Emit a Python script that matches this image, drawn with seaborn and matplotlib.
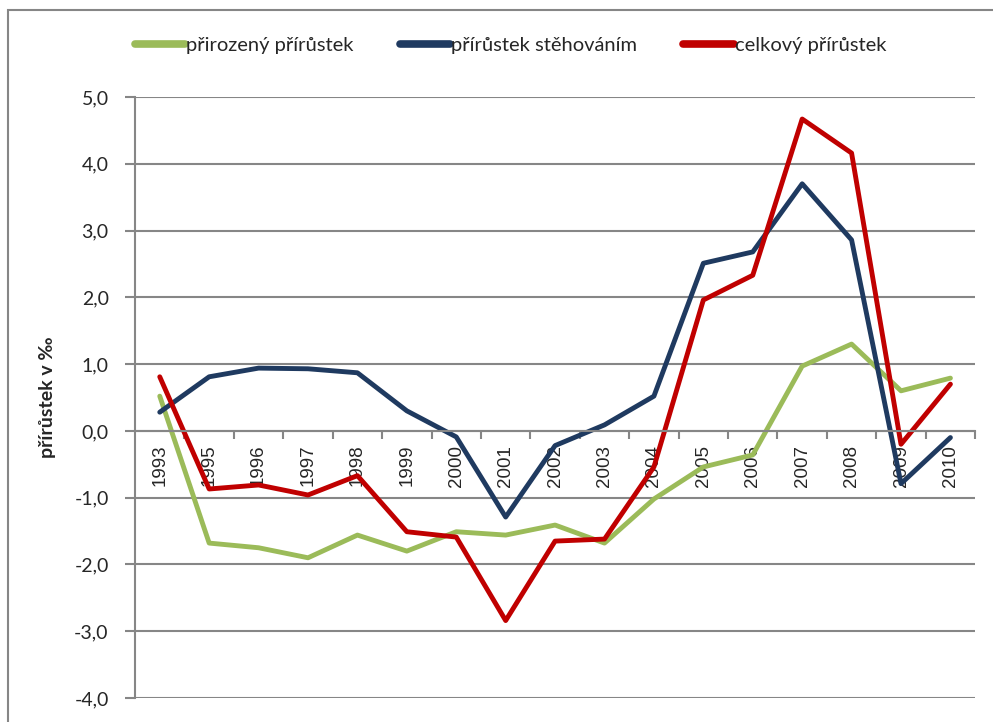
import pandas as pd
import matplotlib
matplotlib.use("Agg")
import matplotlib.pyplot as plt
import seaborn as sns
from matplotlib.patches import Rectangle
from matplotlib.ticker import FixedLocator, FuncFormatter

years = ["1993", "1995", "1996", "1997", "1998", "1999", "2000", "2001", "2002",
         "2003", "2004", "2005", "2006", "2007", "2008", "2009", "2010"]
prirozeny = [0.52, -1.68, -1.75, -1.90, -1.56, -1.80, -1.51, -1.56, -1.41,
             -1.68, -1.02, -0.54, -0.36, 0.97, 1.30, 0.60, 0.79]
stehovanim = [0.28, 0.81, 0.94, 0.93, 0.87, 0.30, -0.09, -1.29, -0.22,
              0.09, 0.52, 2.51, 2.68, 3.70, 2.86, -0.79, -0.10]
celkovy = [0.81, -0.87, -0.81, -0.96, -0.67, -1.51, -1.59, -2.84, -1.65,
           -1.62, -0.54, 1.96, 2.33, 4.67, 4.16, -0.20, 0.70]
series_names = ["přirozený přírůstek", "přírůstek stěhováním", "celkový přírůstek"]
colors = ["#9BBB59", "#1F3A60", "#C00000"]

rows = []
for name, vals in zip(series_names, [prirozeny, stehovanim, celkovy]):
    for i, v in enumerate(vals):
        rows.append({"pos": i, "rok": years[i], "hodnota": v, "serie": name})
df = pd.DataFrame(rows)

sns.set_style("white")
plt.rcParams["font.family"] = ["Lato", "DejaVu Sans"]

fig = plt.figure(figsize=(9.93, 7.22), dpi=100)
ax = fig.add_axes([0.136, 0.0332, 0.846, 0.8325])

sns.lineplot(data=df, x="pos", y="hodnota", hue="serie", hue_order=series_names,
             palette=colors, linewidth=3.5, sort=False, ax=ax, legend=False)

ax.set_xlim(-0.5, len(years) - 0.5)
ax.set_ylim(-4, 5)
ax.set_yticks(range(-4, 6))
ax.yaxis.set_major_formatter(FuncFormatter(lambda v, p: f"{v:.1f}".replace(".", ",")))
ax.grid(axis="y", color="#868686", linewidth=1.5)
ax.grid(axis="x", visible=False)
ax.set_axisbelow(True)

for s in ["top", "right"]:
    ax.spines[s].set_visible(False)
ax.spines["bottom"].set_position(("data", 0))
ax.spines["bottom"].set_color("#868686")
ax.spines["bottom"].set_linewidth(1.5)
ax.spines["left"].set_color("#868686")
ax.spines["left"].set_linewidth(1.5)

ax.xaxis.set_major_locator(FixedLocator(range(len(years))))
ax.set_xticklabels(years, rotation=90, fontsize=13.5, family=["Liberation Sans", "DejaVu Sans"])
ax.xaxis.set_minor_locator(FixedLocator([i + 0.5 for i in range(len(years))]))
ax.tick_params(axis="x", which="major", length=0, pad=10)
ax.tick_params(axis="x", which="minor", bottom=True, length=6, width=1.5, color="#868686")
ax.tick_params(axis="y", left=True, length=7, width=1.5, color="#868686", labelsize=14, pad=12)

ax.set_xlabel("")
ax.set_ylabel("přírůstek v ‰", fontsize=14, fontweight="bold", labelpad=13)

handles = [plt.Line2D([], [], color=c, linewidth=5.5, solid_capstyle="round") for c in colors]
fig.legend(handles, series_names, loc="center", bbox_to_anchor=(0.514, 0.937), ncol=3,
           frameon=False, fontsize=14.5, handlelength=2.5, handletextpad=0.05, columnspacing=2.3)

fig.patches.append(Rectangle((8 / 993, -0.05), 1.0, 1.05 - 10 / 722, transform=fig.transFigure,
                             fill=False, edgecolor="#868686", linewidth=1.5))

fig.savefig("out.png", dpi=100)
